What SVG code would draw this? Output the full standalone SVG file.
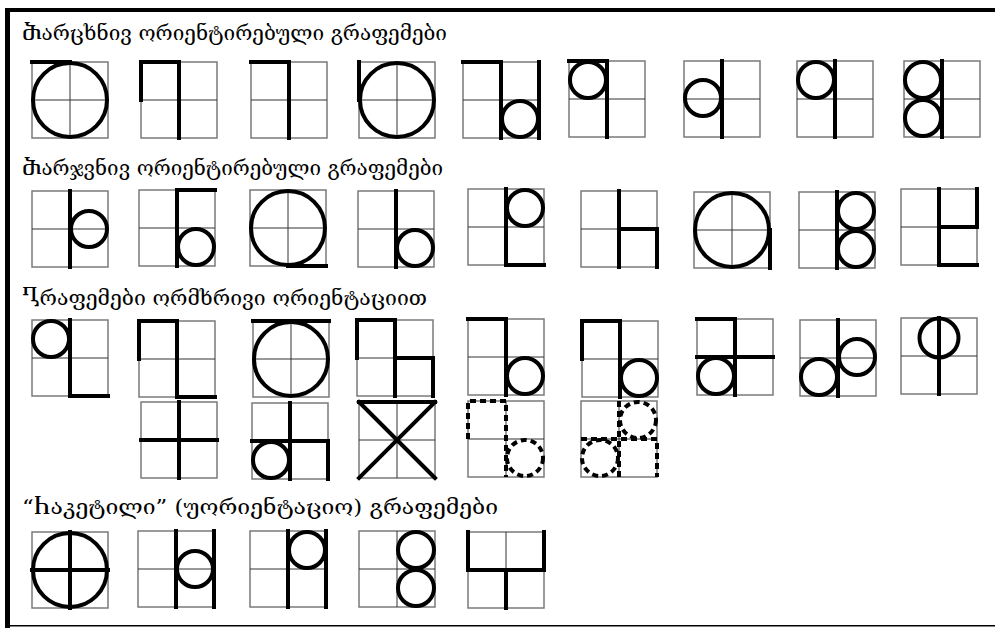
<svg xmlns="http://www.w3.org/2000/svg" xmlns:xlink="http://www.w3.org/1999/xlink" width="995" height="628" viewBox="0 0 995 628">
<style>
.h{font-family:"DejaVu Serif","DejaVu Sans","Noto Sans",serif;font-size:21px;fill:#000}
.o{fill:#fff;stroke:#7a7a7a;stroke-width:1.5}
.i{stroke:#333;stroke-width:1;fill:none}
.k{stroke:#000;stroke-width:4;fill:none;stroke-linecap:square}
.c{stroke:#000;stroke-width:4;fill:none}
.d{stroke:#000;stroke-width:4;fill:none;stroke-dasharray:6 4}
</style>
<defs>
<g id="grid"><rect class="o" x="0" y="0" width="76" height="76"/><path class="i" d="M38,0V76M0,38H76"/></g>
</defs>
<rect x="0" y="0" width="995" height="628" fill="#fff"/>
<g id="frame">
<rect x="5" y="8" width="990" height="4" fill="#000"/>
<rect x="5" y="8" width="5" height="620" fill="#000"/>
<rect x="5" y="625" width="990" height="1.5" fill="#000"/>
</g>
<g id="headings">
<text class="h" x="22" y="40" textLength="425" lengthAdjust="spacingAndGlyphs">Ⴋარცხნივ ორიენტირებული გრაფემები</text>
<text class="h" x="22" y="175" textLength="421" lengthAdjust="spacingAndGlyphs">Ⴋარჯვნივ ორიენტირებული გრაფემები</text>
<text class="h" x="22" y="305" textLength="405" lengthAdjust="spacingAndGlyphs">Ⴂრაფემები ორმხრივი ორიენტაციით</text>
<text class="h" x="22" y="514" textLength="476" lengthAdjust="spacingAndGlyphs">“Ⴙაკეტილი” (უორიენტაციო) გრაფემები</text>
</g>
<!-- Row 1 -->
<g id="r1b1" transform="translate(32,62)"><use href="#grid"/><circle class="c" cx="38" cy="38" r="37"/><path class="k" d="M0,0H38"/></g>
<g id="r1b2" transform="translate(141,62)"><use href="#grid"/><path class="k" d="M0,38V0H38V76"/></g>
<g id="r1b3" transform="translate(251,62)"><use href="#grid"/><path class="k" d="M0,0H38V76"/></g>
<g id="r1b4" transform="translate(359,62)"><use href="#grid"/><circle class="c" cx="38" cy="38" r="37"/><path class="k" d="M0,0V38"/></g>
<g id="r1b5" transform="translate(463,62)"><use href="#grid"/><path class="k" d="M0,0H38V76M76,0V76"/><circle class="c" cx="57" cy="57" r="18"/></g>
<g id="r1b6" transform="translate(569,61)"><use href="#grid"/><path class="k" d="M0,0H38V76"/><circle class="c" cx="19" cy="19" r="18"/></g>
<g id="r1b7" transform="translate(684,61)"><use href="#grid"/><path class="k" d="M38,0V76"/><circle class="c" cx="19" cy="37" r="18"/></g>
<g id="r1b8" transform="translate(797,61)"><use href="#grid"/><path class="k" d="M38,0V76"/><circle class="c" cx="19" cy="19" r="18"/></g>
<g id="r1b9" transform="translate(904,61)"><use href="#grid"/><path class="k" d="M38,0V76"/><circle class="c" cx="19" cy="19" r="18"/><circle class="c" cx="19" cy="57" r="18"/></g>
<!-- Row 2 -->
<g id="r2b1" transform="translate(32,191)"><use href="#grid"/><path class="k" d="M38,0V76"/><circle class="c" cx="57" cy="38" r="18"/></g>
<g id="r2b2" transform="translate(139,190)"><use href="#grid"/><path class="k" d="M76,0H38V76"/><circle class="c" cx="57" cy="57" r="18"/></g>
<g id="r2b3" transform="translate(250,190)"><use href="#grid"/><circle class="c" cx="38" cy="38" r="37"/><path class="k" d="M38,76H76"/></g>
<g id="r2b4" transform="translate(358,191)"><use href="#grid"/><path class="k" d="M38,0V76"/><circle class="c" cx="57" cy="57" r="18"/></g>
<g id="r2b5" transform="translate(468,189)"><use href="#grid"/><path class="k" d="M38,0V76H76"/><circle class="c" cx="57" cy="19" r="18"/></g>
<g id="r2b6" transform="translate(581,191)"><use href="#grid"/><path class="k" d="M38,0V76M38,38H76V76"/></g>
<g id="r2b7" transform="translate(694,192)"><use href="#grid"/><circle class="c" cx="38" cy="38" r="37"/><path class="k" d="M76,38V76"/></g>
<g id="r2b8" transform="translate(799,192)"><use href="#grid"/><path class="k" d="M38,0V76"/><circle class="c" cx="57" cy="19" r="18"/><circle class="c" cx="57" cy="57" r="18"/></g>
<g id="r2b9" transform="translate(901,189)"><use href="#grid"/><path class="k" d="M76,0V38H38M38,0V76H76"/></g>
<!-- Row 3 -->
<g id="r3b1" transform="translate(32,320)"><use href="#grid"/><circle class="c" cx="19" cy="19" r="18"/><path class="k" d="M38,0V76H76"/></g>
<g id="r3b2" transform="translate(139,321)"><use href="#grid"/><path class="k" d="M0,38V0H38V76H76"/></g>
<g id="r3b3" transform="translate(253,321)"><use href="#grid"/><circle class="c" cx="38" cy="38" r="37"/><path class="k" d="M0,0H76"/></g>
<g id="r3b4" transform="translate(357,320)"><use href="#grid"/><path class="k" d="M0,38V0H38V76M38,38H76V76"/></g>
<g id="r3b5" transform="translate(468,319)"><use href="#grid"/><path class="k" d="M0,0H38V76"/><circle class="c" cx="57" cy="57" r="18"/></g>
<g id="r3b6" transform="translate(582,321)"><use href="#grid"/><path class="k" d="M0,38V0H38V76"/><circle class="c" cx="57" cy="57" r="18"/></g>
<g id="r3b7" transform="translate(697,319)"><use href="#grid"/><path class="k" d="M0,0H38V76M0,38H76"/><circle class="c" cx="19" cy="57" r="18"/></g>
<g id="r3b8" transform="translate(800,320)"><use href="#grid"/><path class="k" d="M38,0V76"/><circle class="c" cx="19" cy="57" r="18"/><circle class="c" cx="57" cy="37" r="18"/></g>
<g id="r3b9" transform="translate(901,318)"><use href="#grid"/><path class="k" d="M38,0V76"/><circle class="c" cx="38" cy="20" r="19.5"/></g>
<!-- Row 4 -->
<g id="r4b1" transform="translate(141,402)"><use href="#grid"/><path class="k" d="M38,0V76M0,38H76"/></g>
<g id="r4b2" transform="translate(252,403)"><use href="#grid"/><path class="k" d="M38,0V76M0,38H76V76"/><circle class="c" cx="19" cy="57" r="18"/></g>
<g id="r4b3" transform="translate(359,402)"><use href="#grid"/><path class="k" d="M0,0H76M0,0L76,76M76,0L0,76"/></g>
<g id="r4b4" transform="translate(468,401)"><use href="#grid"/><path class="d" d="M0,38V0H38V76"/><circle class="d" cx="57" cy="57" r="18"/></g>
<g id="r4b5" transform="translate(581,401)"><use href="#grid"/><path class="d" d="M38,0V76M0,38H76V76"/><circle class="d" cx="57" cy="19" r="18"/><circle class="d" cx="19" cy="57" r="18"/></g>
<!-- Row 5 -->
<g id="r5b1" transform="translate(32,532)"><use href="#grid"/><circle class="c" cx="38" cy="38" r="37"/><path class="k" d="M38,0V76M0,38H76"/></g>
<g id="r5b2" transform="translate(138,531)"><use href="#grid"/><path class="k" d="M38,0V76M76,0V76"/><circle class="c" cx="57" cy="38" r="18"/></g>
<g id="r5b3" transform="translate(250,531)"><use href="#grid"/><path class="k" d="M38,0V76M76,0V76"/><circle class="c" cx="57" cy="19" r="18"/></g>
<g id="r5b4" transform="translate(359,531)"><use href="#grid"/><circle class="c" cx="57" cy="19" r="18"/><circle class="c" cx="57" cy="57" r="18"/></g>
<g id="r5b5" transform="translate(468,532)"><use href="#grid"/><path class="k" d="M0,0V38H76V0M38,38V76"/></g>
</svg>
